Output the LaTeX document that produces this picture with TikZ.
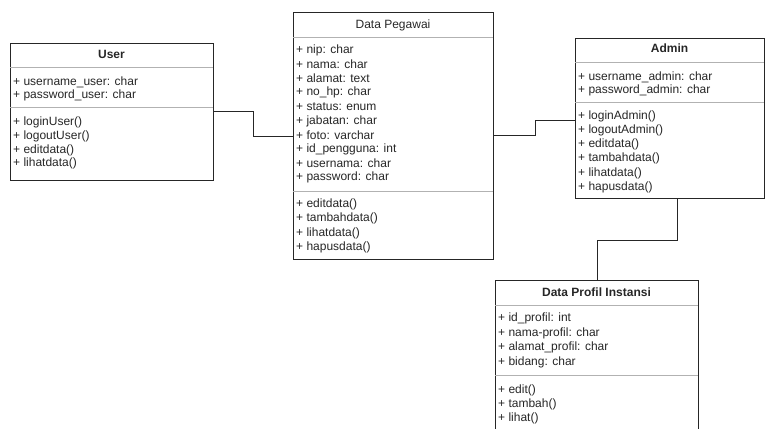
\documentclass[tikz,border=0pt]{standalone}
\usepackage{fontspec}
\setmainfont{Liberation Sans}
\begin{document}
\begin{tikzpicture}[x=1pt,y=-1pt,
 cls/.style={draw=black!85, line width=0.9pt, anchor=north west, inner sep=0pt, outer sep=0pt},
 ttl/.style={font=\fontsize{12}{14}\selectfont\bfseries, text=black!85, inner sep=0pt},
 ttlr/.style={font=\fontsize{12}{14}\selectfont, text=black!85, inner sep=0pt},
 txt/.style={anchor=west, inner sep=0pt, font=\fontsize{12}{14}\selectfont, text=black!85},
 div/.style={draw=black!30, line width=0.9pt},
 conn/.style={draw=black!85, line width=0.9pt}]
\useasboundingbox (0,0) rectangle (765,428);
\clip (0,0) rectangle (765,428);

% ---------- User ----------
\node[cls, minimum width=203pt, minimum height=137pt] (user) at (10,43) {};
\node[ttl] (usert) at (111.5,54) {User};
\draw[div] (user.west |- 0,67) -- (user.east |- 0,67);
\draw[div] (user.west |- 0,107) -- (user.east |- 0,107);
\node[txt] (ua1) at (13,82) {+ username\_user: char};
\node[txt] (ua2) at (13,95.5) {+ password\_user: char};
\node[txt] (um1) at (13,122.5) {+ loginUser()};
\node[txt] (um2) at (13,136.5) {+ logoutUser()};
\node[txt] (um3) at (13,150) {+ editdata()};
\node[txt] (um4) at (13,163.5) {+ lihatdata()};

% ---------- Data Pegawai ----------
\node[cls, minimum width=200pt, minimum height=247pt] (peg) at (293,12) {};
\node[ttlr] (pegt) at (393,25) {Data Pegawai};
\draw[div] (peg.west |- 0,37) -- (peg.east |- 0,37);
\draw[div] (peg.west |- 0,191.5) -- (peg.east |- 0,191.5);
\node[txt] (pa1) at (296,50) {+ nip: char};
\node[txt] (pa2) at (296,64) {+ nama: char};
\node[txt] (pa3) at (296,78) {+ alamat: text};
\node[txt] (pa4) at (296,92.5) {+ no\_hp: char};
\node[txt] (pa5) at (296,107) {+ status: enum};
\node[txt] (pa6) at (296,121) {+ jabatan: char};
\node[txt] (pa7) at (296,135) {+ foto: varchar};
\node[txt] (pa8) at (296,149) {+ id\_pengguna: int};
\node[txt] (pa9) at (296,163) {+ usernama: char};
\node[txt] (pa10) at (296,177) {+ password: char};
\node[txt] (pm1) at (296,204.5) {+ editdata()};
\node[txt] (pm2) at (296,218.5) {+ tambahdata()};
\node[txt] (pm3) at (296,233) {+ lihatdata()};
\node[txt] (pm4) at (296,247) {+ hapusdata()};

% ---------- Admin ----------
\node[cls, minimum width=189pt, minimum height=160pt] (admin) at (575,38) {};
\node[ttl] (admint) at (669.5,48.5) {Admin};
\draw[div] (admin.west |- 0,62) -- (admin.east |- 0,62);
\draw[div] (admin.west |- 0,102) -- (admin.east |- 0,102);
\node[txt] (aa1) at (578,77) {+ username\_admin: char};
\node[txt] (aa2) at (578,90.5) {+ password\_admin: char};
\node[txt] (am1) at (578,116) {+ loginAdmin()};
\node[txt] (am2) at (578,130) {+ logoutAdmin()};
\node[txt] (am3) at (578,144) {+ editdata()};
\node[txt] (am4) at (578,158.5) {+ tambahdata()};
\node[txt] (am5) at (578,173) {+ lihatdata()};
\node[txt] (am6) at (578,187.5) {+ hapusdata()};

% ---------- Data Profil Instansi ----------
\node[cls, minimum width=203pt, minimum height=170pt] (prof) at (495,280) {};
\node[ttl] (proft) at (596.5,292.5) {Data Profil Instansi};
\draw[div] (prof.west |- 0,305) -- (prof.east |- 0,305);
\draw[div] (prof.west |- 0,375) -- (prof.east |- 0,375);
\node[txt] (fa1) at (498,318.5) {+ id\_profil: int};
\node[txt] (fa2) at (498,333) {+ nama-profil: char};
\node[txt] (fa3) at (498,347.5) {+ alamat\_profil: char};
\node[txt] (fa4) at (498,362) {+ bidang: char};
\node[txt] (fm1) at (498,390) {+ edit()};
\node[txt] (fm2) at (498,404) {+ tambah()};
\node[txt] (fm3) at (498,418) {+ lihat()};

% ---------- connectors ----------
\draw[conn] (user.east |- 0,111) -- (253,111) -- (253,136) -- (peg.west |- 0,136);
\draw[conn] (peg.east |- 0,135) -- (535,135) -- (535,120) -- (admin.west |- 0,120);
\draw[conn] (admin.south -| 677,0) -- (677,240) -- (597,240) -- (prof.north -| 597,0);
\end{tikzpicture}
\end{document}
